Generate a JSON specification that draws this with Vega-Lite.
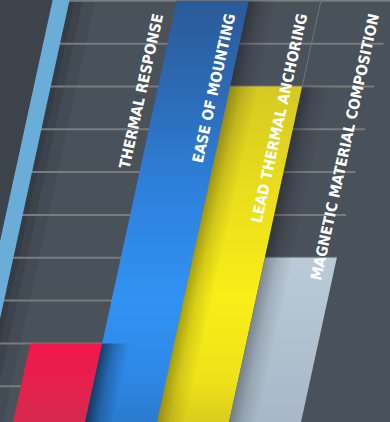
{
  "$schema": "https://vega.github.io/schema/vega-lite/v6.json",
  "width": 390,
  "height": 422,
  "autosize": {"type": "fit", "contains": "padding"},
  "padding": 0,
  "background": "#49515b",
  "config": {"view": {"stroke": null}},
  "datasets": {
    "bars": [
      {"feature": "THERMAL RESPONSE", "score": 20},
      {"feature": "EASE OF MOUNTING", "score": 100},
      {"feature": "LEAD THERMAL ANCHORING", "score": 80},
      {"feature": "MAGNETIC MATERIAL COMPOSITION", "score": 40}
    ],
    "grid": [
      {"g": 0}, {"g": 10}, {"g": 20}, {"g": 30}, {"g": 40}, {"g": 50},
      {"g": 60}, {"g": 70}, {"g": 80}, {"g": 90}, {"g": 100}
    ]
  },
  "layer": [
    {
      "data": {"values": [{}]},
      "mark": {"type": "rule", "clip": true, "color": "#3d434b", "strokeWidth": 150},
      "encoding": {
        "x": {"datum": -1.9156, "type": "quantitative", "scale": {"domain": [-0.16, 5.257], "nice": false, "zero": false}, "axis": null},
        "x2": {"datum": -0.3604},
        "y": {"datum": -10, "type": "quantitative", "scale": {"domain": [1.64, 100.2], "nice": false, "zero": false}, "axis": null},
        "y2": {"datum": 110}
      }
    },
    {
      "data": {"values": [{}]},
      "mark": {"type": "rule", "clip": true, "color": "#000000", "strokeWidth": 26, "opacity": 0.07},
      "encoding": {
        "x": {"datum": -0.4496, "type": "quantitative"},
        "x2": {"datum": 1.1056},
        "y": {"datum": -10, "type": "quantitative"},
        "y2": {"datum": 110}
      }
    },
    {
      "data": {"values": [{}]},
      "mark": {"type": "rule", "clip": true, "color": "#000000", "strokeWidth": 14, "opacity": 0.1},
      "encoding": {
        "x": {"datum": -0.5346, "type": "quantitative"},
        "x2": {"datum": 1.0206},
        "y": {"datum": -10, "type": "quantitative"},
        "y2": {"datum": 110}
      }
    },
    {
      "data": {"values": [{}]},
      "mark": {"type": "rule", "clip": true, "color": "#000000", "strokeWidth": 6, "opacity": 0.1},
      "encoding": {
        "x": {"datum": -0.5886, "type": "quantitative"},
        "x2": {"datum": 0.9666},
        "y": {"datum": -10, "type": "quantitative"},
        "y2": {"datum": 110}
      }
    },
    {
      "data": {"name": "grid"},
      "transform": [
        {"calculate": "-0.5 + 0.01296 * datum.g", "as": "gx"},
        {"calculate": "4 + 0.01296 * datum.g", "as": "gx2"}
      ],
      "mark": {"type": "rule", "clip": true, "color": "#7b7b7b", "strokeWidth": 2},
      "encoding": {
        "x": {"field": "gx", "type": "quantitative"},
        "x2": {"field": "gx2"},
        "y": {"field": "g", "type": "quantitative"}
      }
    },
    {
      "data": {"name": "bars"},
      "transform": [
        {"window": [{"op": "row_number", "as": "col"}]},
        {"filter": "datum.col == 3"},
        {"calculate": "datum.col + 0.01296 * datum.score", "as": "bx"},
        {"calculate": "datum.col + 0.01296 * 110", "as": "bx2"},
        {"calculate": "110", "as": "by2"}
      ],
      "mark": {"type": "rule", "clip": true, "color": "#6f757c", "strokeWidth": 1},
      "encoding": {
        "x": {"field": "bx", "type": "quantitative"},
        "x2": {"field": "bx2"},
        "y": {"field": "score", "type": "quantitative"},
        "y2": {"field": "by2"}
      }
    },
    {
      "data": {"name": "bars"},
      "transform": [
        {"window": [{"op": "row_number", "as": "col"}]},
        {"calculate": "0", "as": "base"},
        {"fold": ["base", "score"], "as": ["end", "level"]},
        {"calculate": "datum.col - 1 + 0.01296 * datum.level", "as": "left"},
        {"calculate": "datum.left + 1", "as": "right"}
      ],
      "encoding": {
        "y": {"field": "level", "type": "quantitative"},
        "x": {"field": "left", "type": "quantitative", "stack": null},
        "x2": {"field": "right"},
        "detail": {"field": "feature"}
      },
      "layer": [
        {
          "transform": [{"filter": "datum.col == 1"}],
          "mark": {"type": "area", "orient": "horizontal", "clip": true,
            "fill": {"gradient": "linear", "x1": 0, "y1": 0, "x2": 0, "y2": 1,
              "stops": [{"offset": 0, "color": "#f3164a"}, {"offset": 0.92, "color": "#d62a50"}, {"offset": 1, "color": "#d22b52"}]}}
        },
        {
          "transform": [{"filter": "datum.col == 2"}],
          "mark": {"type": "area", "orient": "horizontal", "clip": true,
            "fill": {"gradient": "linear", "x1": 0, "y1": 0, "x2": 0, "y2": 1,
              "stops": [{"offset": 0, "color": "#2a5a99"}, {"offset": 0.23, "color": "#2c6cb8"}, {"offset": 0.46, "color": "#2e82de"}, {"offset": 0.7, "color": "#3092f4"}, {"offset": 0.88, "color": "#2e88e6"}, {"offset": 1, "color": "#2a78ca"}]}}
        },
        {
          "transform": [{"filter": "datum.col == 3"}],
          "mark": {"type": "area", "orient": "horizontal", "clip": true,
            "fill": {"gradient": "linear", "x1": 0, "y1": 0, "x2": 0, "y2": 1,
              "stops": [{"offset": 0, "color": "#d5c922"}, {"offset": 0.33, "color": "#ebdf1c"}, {"offset": 0.62, "color": "#f9ee17"}, {"offset": 0.86, "color": "#eee21a"}, {"offset": 1, "color": "#d6c91d"}]}}
        },
        {
          "transform": [{"filter": "datum.col == 4"}],
          "mark": {"type": "area", "orient": "horizontal", "clip": true,
            "fill": {"gradient": "linear", "x1": 0, "y1": 0, "x2": 0, "y2": 1,
              "stops": [{"offset": 0, "color": "#bbcad8"}, {"offset": 1, "color": "#a7b7c7"}]}}
        }
      ]
    },
    {
      "data": {"name": "bars"},
      "transform": [
        {"window": [{"op": "row_number", "as": "col"}, {"op": "lag", "field": "score", "as": "prev"}]},
        {"filter": "datum.prev != null"},
        {"calculate": "0", "as": "base"},
        {"fold": ["base", "prev"], "as": ["end", "level"]},
        {"calculate": "datum.col - 1 + 0.01296 * datum.level", "as": "left"},
        {"calculate": "datum.left + 0.4", "as": "right"}
      ],
      "encoding": {
        "y": {"field": "level", "type": "quantitative"},
        "x": {"field": "left", "type": "quantitative", "stack": null},
        "x2": {"field": "right"},
        "detail": {"field": "feature"}
      },
      "layer": [
        {
          "transform": [{"filter": "datum.col == 2"}],
          "mark": {"type": "area", "orient": "horizontal", "clip": true,
            "fill": {"gradient": "linear", "x1": 0, "y1": 1, "x2": 0.526, "y2": 1.207,
              "stops": [{"offset": 0, "color": "rgba(0,0,0,0.55)"}, {"offset": 0.45, "color": "rgba(0,0,0,0.22)"}, {"offset": 1, "color": "rgba(0,0,0,0)"}]}}
        },
        {
          "transform": [{"filter": "datum.col == 3"}],
          "mark": {"type": "area", "orient": "horizontal", "clip": true,
            "fill": {"gradient": "linear", "x1": 0, "y1": 1, "x2": 0.149, "y2": 1.114,
              "stops": [{"offset": 0, "color": "rgba(0,0,0,0.32)"}, {"offset": 0.45, "color": "rgba(0,0,0,0.12)"}, {"offset": 1, "color": "rgba(0,0,0,0)"}]}}
        },
        {
          "transform": [{"filter": "datum.col == 4"}],
          "mark": {"type": "area", "orient": "horizontal", "clip": true,
            "fill": {"gradient": "linear", "x1": 0, "y1": 1, "x2": 0.183, "y2": 1.132,
              "stops": [{"offset": 0, "color": "rgba(0,0,0,0.32)"}, {"offset": 0.45, "color": "rgba(0,0,0,0.12)"}, {"offset": 1, "color": "rgba(0,0,0,0)"}]}}
        }
      ]
    },
    {
      "data": {"values": [{}]},
      "mark": {"type": "rule", "clip": true, "color": "#6aaed8", "strokeWidth": 16.5},
      "encoding": {
        "x": {"datum": -0.7396, "type": "quantitative"},
        "x2": {"datum": 0.8156},
        "y": {"datum": -10, "type": "quantitative"},
        "y2": {"datum": 110}
      }
    },
    {
      "data": {"name": "bars"},
      "transform": [
        {"window": [{"op": "row_number", "as": "col"}]},
        {"calculate": "datum.col - 0.145 + 0.01296 * 96.7", "as": "lx"},
        {"calculate": "96.7", "as": "ly"}
      ],
      "mark": {"type": "text", "angle": 282.4, "align": "right", "baseline": "alphabetic",
        "font": "DejaVu Sans Condensed, Roboto Condensed, Roboto, sans-serif", "fontWeight": "bold", "fontSize": 15, "color": "#ffffff"},
      "encoding": {
        "x": {"field": "lx", "type": "quantitative"},
        "y": {"field": "ly", "type": "quantitative"},
        "text": {"field": "feature"}
      }
    }
  ]
}
